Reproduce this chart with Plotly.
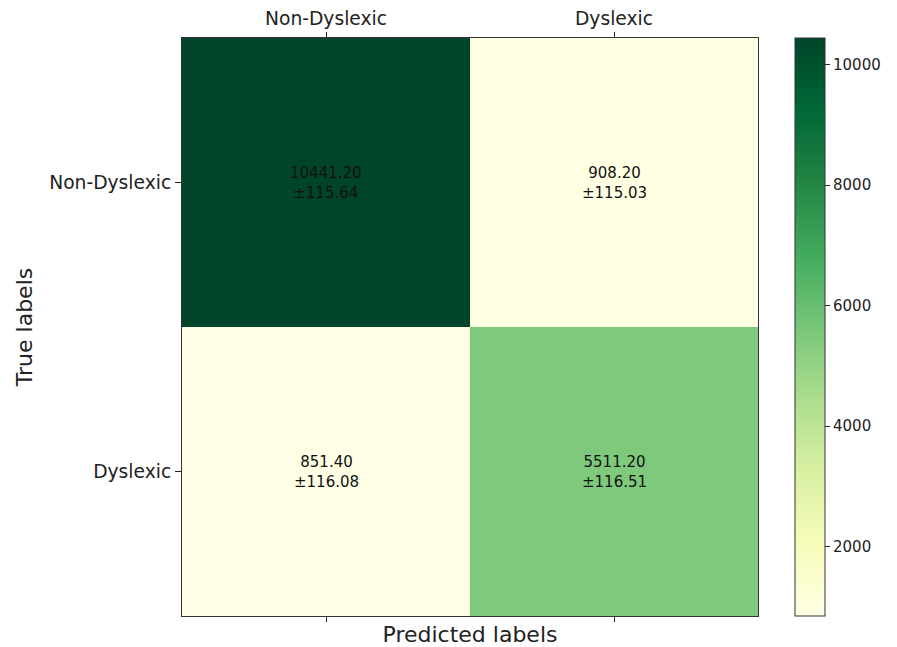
import plotly.graph_objects as go

# Confusion matrix: mean counts and standard deviations
class_names = ["Non-Dyslexic", "Dyslexic"]
mean_counts = [[10441.20, 908.20],
               [851.40, 5511.20]]
std_counts = [[115.64, 115.03],
              [116.08, 116.51]]
cbar_ticks = [2000, 4000, 6000, 8000, 10000]

W, H = 897, 647
L, R, T, B = 182, 139, 38, 31
FONT = "DejaVu Sans"

ylgn = [[0.0, "#ffffe5"], [0.125, "#f7fcb9"], [0.25, "#d9f0a3"], [0.375, "#addd8e"],
        [0.5, "#78c679"], [0.625, "#41ab5d"], [0.75, "#238443"], [0.875, "#006837"],
        [1.0, "#004529"]]

xs = list(range(len(class_names)))
ys = list(range(len(class_names)))
zmin = min(min(r) for r in mean_counts)
zmax = max(max(r) for r in mean_counts)

fig = go.Figure()
fig.add_trace(go.Heatmap(
    z=mean_counts, x=xs, y=ys, colorscale=ylgn, zmin=zmin, zmax=zmax,
    xgap=0, ygap=0, hoverinfo="skip",
    colorbar=dict(
        x=(795 - L) / (W - L - R), xanchor="left", xref="paper",
        y=0, yanchor="bottom", len=1, lenmode="fraction",
        xpad=0, ypad=0,
        thickness=30, thicknessmode="pixels",
        outlinecolor="#333333", outlinewidth=1,
        tickvals=cbar_ticks, tickformat="d", ticks="outside", ticklen=5,
        tickcolor="#222222",
        tickfont=dict(family=FONT, size=15, color="#222222"),
    ),
))
# invisible trace on the bottom axis so its ticks render
fig.add_trace(go.Scatter(x=xs, y=ys, xaxis="x2", mode="markers",
                         marker=dict(opacity=0), hoverinfo="skip", showlegend=False))

for i, row in enumerate(mean_counts):
    for j, v in enumerate(row):
        fig.add_annotation(
            x=j, y=i, xref="x", yref="y", showarrow=False,
            text=f"{v:.2f}<br>±{std_counts[i][j]:.2f}",
            font=dict(family=FONT, size=15, color="#111111"),
        )

fig.update_layout(
    width=W, height=H, margin=dict(l=L, r=R, t=T, b=B, autoexpand=False),
    paper_bgcolor="white", plot_bgcolor="white", showlegend=False,
    xaxis=dict(side="top", range=[-0.5, 1.5], tickvals=xs, ticktext=class_names,
               ticks="outside", ticklen=5, tickcolor="#222222",
               tickfont=dict(family=FONT, size=18.7, color="#222222"),
               showgrid=False, zeroline=False, showline=True, linecolor="#333333",
               linewidth=1, mirror=True, automargin=False),
    xaxis2=dict(overlaying="x", side="bottom", range=[-0.5, 1.5], tickvals=xs,
                showticklabels=False, ticks="outside", ticklen=5, tickcolor="#222222",
                showgrid=False, zeroline=False, automargin=False,
                title=dict(text="Predicted labels", standoff=7,
                           font=dict(family=FONT, size=22, color="#222222"))),
    yaxis=dict(range=[1.5, -0.5], tickvals=ys, ticktext=class_names,
               ticks="outside", ticklen=6, tickcolor="#222222",
               tickfont=dict(family=FONT, size=18.7, color="#222222"),
               showgrid=False, zeroline=False, showline=True, linecolor="#333333",
               linewidth=1, mirror=True, automargin=False,
               title=dict(text="True labels", standoff=10,
                          font=dict(family=FONT, size=22, color="#222222"))),
)

fig.write_html("out.html")
